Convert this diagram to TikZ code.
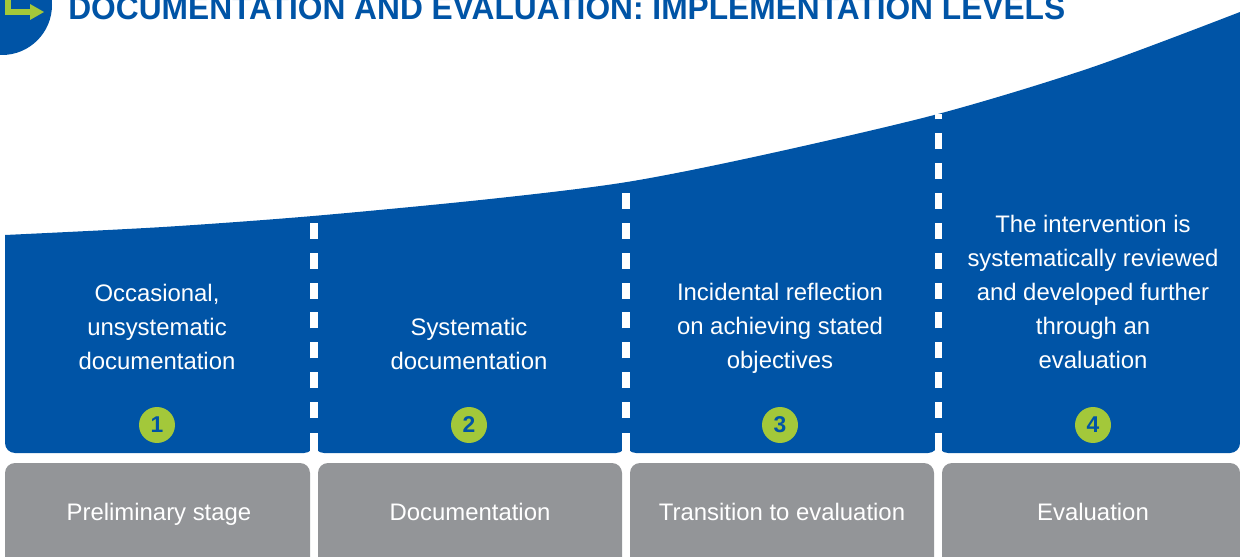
\documentclass[tikz,border=0pt]{standalone}
\usepackage{fontspec}
\setmainfont{Liberation Sans}
\usetikzlibrary{positioning}
\definecolor{levelblue}{HTML}{0054A6}
\definecolor{stagegrey}{HTML}{939598}
\definecolor{levelgreen}{HTML}{A3C83A}

\begin{document}
\begin{tikzpicture}[x=0.02cm,y=-0.02cm,
  level/.style={text=white,align=center,inner sep=0pt,font=\fontsize{13.6}{19.4}\selectfont},
  stage/.style={text=white,inner sep=0pt,anchor=base,font=\fontsize{13.6}{16}\selectfont},
  badge/.style={circle,fill=levelgreen,text=levelblue,inner sep=0pt,minimum size=0.72cm,font=\bfseries\fontsize{13}{13}\selectfont},
  divider/.style={white,line width=4pt},
  column/.style={fill=levelblue,rounded corners=5.7pt},
  stagebox/.style={fill=stagegrey,rounded corners=5.7pt}]
\useasboundingbox (0,0) rectangle (1240,557);

% title and icon
\fill[levelblue] (2,5) circle[radius=50];
\draw[levelgreen,line width=3pt] (8,-10) -- (8,12) -- (32,12);
\fill[levelgreen] (30,4) -- (44,12) -- (30,20) -- cycle;
\node (title) [anchor=base west,inner sep=0pt,text=levelblue,font=\bfseries\fontsize{18.7}{20}\selectfont]
  at (68,20) {\scalebox{0.965}[1]{DOCUMENTATION AND EVALUATION: IMPLEMENTATION LEVELS}};

% rising blue area, one column per level
\begin{scope}
\clip plot[smooth] coordinates {(5,235) (163,227) (313,216) (490,199) (627,182) (763,155) (938,114) (1090,68) (1240,12)}
  -- (1240,470) -- (5,470) -- cycle;
\fill[column] (5,0) rectangle (314,453);
\fill[column] (314,0) rectangle (626,453);
\fill[column] (626,0) rectangle (938,453);
\fill[column] (938,-40) rectangle (1240,453);
\end{scope}

% dashed dividers
\draw[divider,dash pattern=on 9.1pt off 7.9pt] (314,418) -- (314,216);
\draw[divider,dash pattern=on 9.1pt off 7.9pt] (626,418) -- (626,182);
\draw[divider,dash pattern=on 9.1pt off 7.9pt] (938,418) -- (938,114);
\draw[divider] (314,433) -- (314,463);
\draw[divider] (626,433) -- (626,463);
\draw[divider] (938,433) -- (938,463);

% grey stage boxes
\fill[stagebox] (5,463) rectangle (310,600);
\fill[stagebox] (318,463) rectangle (622,600);
\fill[stagebox] (630,463) rectangle (934,600);
\fill[stagebox] (942,463) rectangle (1240,600);

\node (l1) [level] at (157,327) {Occasional,\\unsystematic\\documentation};
\node (l2) [level] at (469,344) {Systematic\\documentation};
\node (l3) [level] at (780,328) {Incidental reflection\\on achieving stated\\objectives};
\node (l4) [level] at (1093,292) {The intervention is\\systematically reviewed\\and developed further\\through an\\evaluation};

\node (b1) [badge] at (157,425) {1};
\node (b2) [badge] at (469,425) {2};
\node (b3) [badge] at (780,425) {3};
\node (b4) [badge] at (1093,425) {4};

\node (s1) [stage] at (159,520) {Preliminary stage};
\node (s2) [stage] at (470,520) {Documentation};
\node (s3) [stage] at (782,520) {Transition to evaluation};
\node (s4) [stage] at (1093,520) {Evaluation};
\end{tikzpicture}
\end{document}
